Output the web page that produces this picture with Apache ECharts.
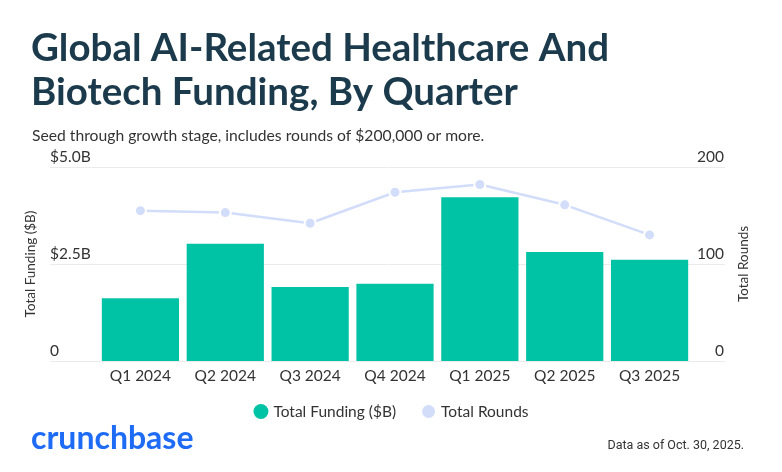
<!DOCTYPE html>
<html>
<head>
<meta charset="utf-8">
<script src="https://cdn.jsdelivr.net/npm/echarts@6/dist/echarts.min.js"></script>
<style>
  html, body { margin: 0; padding: 0; background: #fff; }
  #chart { width: 782px; height: 472px; }
</style>
</head>
<body>
<div id="chart"></div>
<script>
// quarters on the x axis
var quarters = ['Q1 2024', 'Q2 2024', 'Q3 2024', 'Q4 2024', 'Q1 2025', 'Q2 2025', 'Q3 2025'];
// total funding in $B (bars, left axis)
var funding = [1.62, 3.02, 1.91, 1.99, 4.22, 2.81, 2.61];
// total rounds (line, right axis)
var rounds = [155, 153, 142, 174, 182, 161, 130];

var FONT = 'Lato';
var textColor = '#333';
var barColor = '#00c3a5';
var lineColor = '#d2ddfa';

var myChart = echarts.init(document.getElementById('chart'), null, { renderer: 'canvas' });

var option = {
    backgroundColor: '#fff',
    animation: false,
    textStyle: { fontFamily: FONT },
    title: [{
        text: 'Global AI-Related Healthcare And\nBiotech Funding, By Quarter',
        left: 26,
        top: 22,
        textStyle: {
            fontFamily: FONT,
            fontSize: 38.5,
            fontWeight: 700,
            color: '#1b3a4b',
            lineHeight: 44
        }
    }, {
        text: 'Seed through growth stage, includes rounds of $200,000 or more.',
        left: 27,
        top: 123,
        textStyle: {
            fontFamily: FONT,
            fontSize: 15.7,
            fontWeight: 400,
            color: textColor
        }
    }],
    legend: {
        bottom: 47,
        left: 'center',
        icon: 'circle',
        itemWidth: 15,
        itemHeight: 15,
        itemGap: 24,
        textStyle: { fontFamily: FONT, fontSize: 15.5, color: textColor },
        data: ['Total Funding ($B)', 'Total Rounds']
    },
    grid: [
        // main plot
        { left: 98, right: 90, top: 167, bottom: 111 },
        // wider grid only for the horizontal gridlines
        { left: 50, right: 57, top: 167, bottom: 111 }
    ],
    xAxis: [{
        type: 'category',
        gridIndex: 0,
        data: quarters,
        axisLine: { show: false },
        axisTick: { show: false },
        axisLabel: { color: textColor, fontSize: 15.5, margin: 7 }
    }, {
        type: 'value',
        gridIndex: 1,
        show: false
    }],
    yAxis: [{
        type: 'value',
        gridIndex: 0,
        min: 0,
        max: 5,
        interval: 2.5,
        name: 'Total Funding ($B)',
        nameLocation: 'middle',
        nameGap: 60,
        nameRotate: 90,
        nameTextStyle: { color: textColor, fontSize: 13.5 },
        axisLine: { show: false },
        axisTick: { show: false },
        splitLine: { show: false },
        axisLabel: {
            color: textColor,
            fontSize: 15.5,
            align: 'left',
            verticalAlign: 'bottom',
            margin: 48,
            padding: [0, 0, 2, 0],
            formatter: function(v) {
                return v === 0 ? '0' : '$' + v.toFixed(1) + 'B';
            }
        }
    }, {
        type: 'value',
        gridIndex: 0,
        position: 'right',
        min: 0,
        max: 200,
        interval: 100,
        name: 'Total Rounds',
        nameLocation: 'middle',
        nameGap: 45,
        nameRotate: 90,
        nameTextStyle: { color: textColor, fontSize: 13.5 },
        axisLine: { show: false },
        axisTick: { show: false },
        splitLine: { show: false },
        axisLabel: {
            color: textColor,
            fontSize: 15.5,
            align: 'right',
            verticalAlign: 'bottom',
            margin: 32,
            padding: [0, 0, 2, 0]
        }
    }, {
        type: 'value',
        gridIndex: 1,
        min: 0,
        max: 5,
        interval: 2.5,
        axisLine: { show: false },
        axisTick: { show: false },
        axisLabel: { show: false },
        splitLine: { show: true, lineStyle: { color: '#ebebeb', width: 1 } }
    }],
    series: [{
        name: 'Total Funding ($B)',
        type: 'bar',
        xAxisIndex: 0,
        yAxisIndex: 0,
        barCategoryGap: '9%',
        itemStyle: { color: barColor },
        z: 2,
        data: funding
    }, {
        name: 'Total Rounds',
        type: 'line',
        xAxisIndex: 0,
        yAxisIndex: 1,
        symbol: 'circle',
        symbolSize: 11,
        itemStyle: { color: lineColor, borderColor: '#fff', borderWidth: 2 },
        lineStyle: { color: lineColor, width: 2.5 },
        z: 3,
        data: rounds
    }],
    graphic: [{
        type: 'text',
        left: 31,
        top: 423,
        style: {
            text: 'crunchbase',
            fontFamily: FONT,
            fontSize: 32,
            fontWeight: 700,
            fill: '#1e6cf5'
        }
    }, {
        type: 'text',
        right: 38,
        top: 439,
        style: {
            text: 'Data as of Oct. 30, 2025.',
            fontFamily: 'Roboto',
            fontSize: 12.5,
            fill: textColor
        }
    }]
};

if (option && typeof option === 'object') {
    myChart.setOption(option, true);
}
</script>
</body>
</html>
